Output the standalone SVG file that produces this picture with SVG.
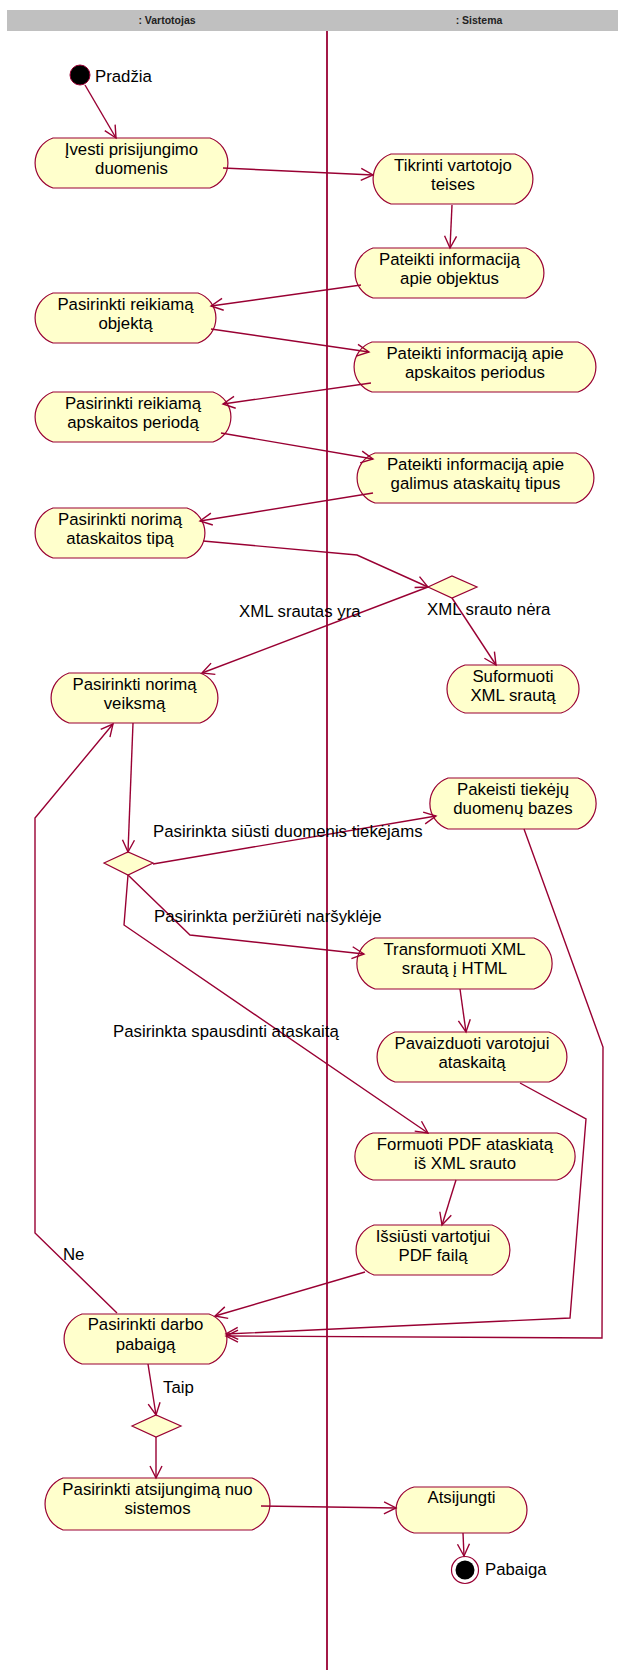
<svg xmlns="http://www.w3.org/2000/svg" width="618" height="1670" viewBox="0 0 618 1670">
  <style>
    .act { fill: #FFFFCC; stroke: #990033; stroke-width: 1.2; }
    .dec { fill: #FFFFCC; stroke: #990033; stroke-width: 1.2; }
    .t { font-family: "Liberation Sans", Arial, sans-serif; font-size: 16.8px; fill: #000; }
    .c { text-anchor: middle; }
    .hd { font-family: "Liberation Sans", Arial, sans-serif; font-size: 10.5px; font-weight: bold; fill: #222; text-anchor: middle; }
    .e { fill: none; stroke: #990033; stroke-width: 1.4; marker-end: url(#open); }
  </style>
  <defs>
    <marker id="open" markerUnits="userSpaceOnUse" markerWidth="14" markerHeight="13" refX="12" refY="6" orient="auto" overflow="visible">
      <path d="M0,0 L12,6 L0,12" fill="none" stroke="#990033" stroke-width="1.4"/>
    </marker>
  </defs>

  <rect width="618" height="1670" fill="#FFFFFF"/>

  <!-- swimlane header and divider -->
  <g id="lanes">
    <rect x="7" y="10" width="611" height="21" fill="#C0C0C0"/>
    <text class="hd" x="167" y="24">: Vartotojas</text>
    <text class="hd" x="479" y="24">: Sistema</text>
    <line x1="327" y1="31" x2="327" y2="1670" stroke="#990033" stroke-width="1.8"/>
  </g>

  <g id="start">
    <circle cx="80" cy="75" r="10" fill="#000" stroke="#990033" stroke-width="1"/>
    <text class="t" x="95" y="82">Pradžia</text>
  </g>

  <!-- activity states: straight top/bottom, arc ends bulging 18px -->
  <g id="ivesti">
    <path class="act" d="M53,138 H210 A26.4,26.4 0 0 1 210,188 H53 A26.4,26.4 0 0 1 53,138 Z"/>
    <text class="t c" x="131.5" y="154.5">Įvesti prisijungimo</text>
    <text class="t c" x="131.5" y="174">duomenis</text>
  </g>

  <g id="tikrinti">
    <path class="act" d="M391,154 H515 A26.4,26.4 0 0 1 515,204 H391 A26.4,26.4 0 0 1 391,154 Z"/>
    <text class="t c" x="453" y="170.5">Tikrinti vartotojo</text>
    <text class="t c" x="453" y="190">teises</text>
  </g>

  <g id="pateikti-objektus">
    <path class="act" d="M373,248 H526 A26.4,26.4 0 0 1 526,298 H373 A26.4,26.4 0 0 1 373,248 Z"/>
    <text class="t c" x="449.5" y="264.5">Pateikti informaciją</text>
    <text class="t c" x="449.5" y="284">apie objektus</text>
  </g>

  <g id="pasirinkti-objekta">
    <path class="act" d="M53,293 H198 A26.4,26.4 0 0 1 198,343 H53 A26.4,26.4 0 0 1 53,293 Z"/>
    <text class="t c" x="125.5" y="309.5">Pasirinkti reikiamą</text>
    <text class="t c" x="125.5" y="329">objektą</text>
  </g>

  <g id="pateikti-periodus">
    <path class="act" d="M372,342 H578 A26.4,26.4 0 0 1 578,392 H372 A26.4,26.4 0 0 1 372,342 Z"/>
    <text class="t c" x="475" y="358.5">Pateikti informaciją apie</text>
    <text class="t c" x="475" y="378">apskaitos periodus</text>
  </g>

  <g id="pasirinkti-perioda">
    <path class="act" d="M53,392 H213 A26.4,26.4 0 0 1 213,442 H53 A26.4,26.4 0 0 1 53,392 Z"/>
    <text class="t c" x="133" y="408.5">Pasirinkti reikiamą</text>
    <text class="t c" x="133" y="428">apskaitos periodą</text>
  </g>

  <g id="pateikti-tipus">
    <path class="act" d="M375,453 H576 A26.4,26.4 0 0 1 576,503 H375 A26.4,26.4 0 0 1 375,453 Z"/>
    <text class="t c" x="475.5" y="469.5">Pateikti informaciją apie</text>
    <text class="t c" x="475.5" y="489">galimus ataskaitų tipus</text>
  </g>

  <g id="pasirinkti-tipa">
    <path class="act" d="M53,508 H187 A26.4,26.4 0 0 1 187,558 H53 A26.4,26.4 0 0 1 53,508 Z"/>
    <text class="t c" x="120" y="524.5">Pasirinkti norimą</text>
    <text class="t c" x="120" y="544">ataskaitos tipą</text>
  </g>

  <g id="xml-decision">
    <polygon class="dec" points="428,587 452,576 477,587 452,598"/>
  </g>

  <g id="suformuoti">
    <path class="act" d="M465,665 H561 A25,25 0 0 1 561,713 H465 A25,25 0 0 1 465,665 Z"/>
    <text class="t c" x="513" y="681.5">Suformuoti</text>
    <text class="t c" x="513" y="701">XML srautą</text>
  </g>

  <g id="pasirinkti-veiksma">
    <path class="act" d="M69,673 H200 A26.4,26.4 0 0 1 200,723 H69 A26.4,26.4 0 0 1 69,673 Z"/>
    <text class="t c" x="134.5" y="689.5">Pasirinkti norimą</text>
    <text class="t c" x="134.5" y="709">veiksmą</text>
  </g>

  <g id="action-decision">
    <polygon class="dec" points="104,863 128,852 153,863 128,875"/>
  </g>

  <g id="pakeisti">
    <path class="act" d="M448,778 H578 A27,27 0 0 1 578,829 H448 A27,27 0 0 1 448,778 Z"/>
    <text class="t c" x="513" y="794.5">Pakeisti tiekėjų</text>
    <text class="t c" x="513" y="814">duomenų bazes</text>
  </g>

  <g id="transformuoti">
    <path class="act" d="M375,938 H534 A27,27 0 0 1 534,989 H375 A27,27 0 0 1 375,938 Z"/>
    <text class="t c" x="454.5" y="954.5">Transformuoti XML</text>
    <text class="t c" x="454.5" y="974">srautą į HTML</text>
  </g>

  <g id="pavaizduoti">
    <path class="act" d="M395,1032 H549 A26.4,26.4 0 0 1 549,1082 H395 A26.4,26.4 0 0 1 395,1032 Z"/>
    <text class="t c" x="472" y="1048.5">Pavaizduoti varotojui</text>
    <text class="t c" x="472" y="1068">ataskaitą</text>
  </g>

  <g id="formuoti-pdf">
    <path class="act" d="M373,1133 H557 A24.3,24.3 0 0 1 557,1180 H373 A24.3,24.3 0 0 1 373,1133 Z"/>
    <text class="t c" x="465" y="1149.5">Formuoti PDF ataskiatą</text>
    <text class="t c" x="465" y="1169">iš XML srauto</text>
  </g>

  <g id="issiusti">
    <path class="act" d="M374,1225 H492 A26.4,26.4 0 0 1 492,1275 H374 A26.4,26.4 0 0 1 374,1225 Z"/>
    <text class="t c" x="433" y="1241.5">Išsiūsti vartotjui</text>
    <text class="t c" x="433" y="1261">PDF failą</text>
  </g>

  <g id="pasirinkti-pabaiga">
    <path class="act" d="M82,1314 H209 A26.4,26.4 0 0 1 209,1364 H82 A26.4,26.4 0 0 1 82,1314 Z"/>
    <text class="t c" x="145.5" y="1330">Pasirinkti darbo</text>
    <text class="t c" x="145.5" y="1349.5">pabaigą</text>
  </g>

  <g id="end-decision">
    <polygon class="dec" points="132,1426 156,1415 181,1426 156,1437"/>
  </g>

  <g id="pasirinkti-atsijungima">
    <path class="act" d="M63,1478 H252 A27.8,27.8 0 0 1 252,1530 H63 A27.8,27.8 0 0 1 63,1478 Z"/>
    <text class="t c" x="157.5" y="1494.5">Pasirinkti atsijungimą nuo</text>
    <text class="t c" x="157.5" y="1514">sistemos</text>
  </g>

  <g id="atsijungti">
    <path class="act" d="M414,1487 H509 A23.7,23.7 0 0 1 509,1533 H414 A23.7,23.7 0 0 1 414,1487 Z"/>
    <text class="t c" x="461.5" y="1503">Atsijungti</text>
  </g>

  <g id="end">
    <circle cx="465" cy="1570" r="13.5" fill="#FFFFFF" stroke="#990033" stroke-width="1.2"/>
    <circle cx="465" cy="1570" r="9.5" fill="#000"/>
    <text class="t" x="485" y="1575">Pabaiga</text>
  </g>

  <!-- transitions -->
  <g id="connectors">
    <line class="e" x1="85" y1="85" x2="116" y2="138"/>
    <line class="e" x1="223" y1="168" x2="373" y2="175"/>
    <line class="e" x1="452" y1="205" x2="450" y2="248"/>
    <line class="e" x1="361" y1="285" x2="211" y2="306"/>
    <line class="e" x1="211" y1="329" x2="369" y2="352"/>
    <line class="e" x1="371" y1="383" x2="223" y2="404"/>
    <line class="e" x1="221" y1="433" x2="373" y2="459"/>
    <line class="e" x1="373" y1="493" x2="200" y2="521"/>
    <polyline class="e" points="203,541 357,555 428,587"/>
    <line class="e" x1="428" y1="587" x2="202" y2="673"/>
    <line class="e" x1="452" y1="598" x2="496" y2="665"/>
    <line class="e" x1="133" y1="723" x2="128" y2="852"/>
    <line class="e" x1="153" y1="864" x2="436" y2="816"/>
    <polyline class="e" points="128,875 190,935 364,954"/>
    <polyline class="e" points="128,875 124,925 428,1133"/>
    <line class="e" x1="460" y1="989" x2="466" y2="1032"/>
    <polyline class="e" points="520,1083 586,1119 570,1318 226,1334"/>
    <polyline class="e" points="524,829 603,1047 602,1338 226,1336"/>
    <line class="e" x1="456" y1="1180" x2="442" y2="1225"/>
    <line class="e" x1="365" y1="1272" x2="215" y2="1316"/>
    <polyline class="e" points="117,1313 35,1233 35,818 113,724"/>
    <line class="e" x1="148" y1="1364" x2="156" y2="1415"/>
    <line class="e" x1="156" y1="1437" x2="156" y2="1478"/>
    <line class="e" x1="261" y1="1506" x2="396" y2="1508"/>
    <line class="e" x1="463" y1="1533" x2="464" y2="1556"/>
  </g>

  <!-- guard conditions -->
  <g id="guards">
    <text class="t" x="239" y="617">XML srautas yra</text>
    <text class="t" x="427" y="615">XML srauto nėra</text>
    <text class="t" x="153" y="837">Pasirinkta siūsti duomenis tiekėjams</text>
    <text class="t" x="154" y="922">Pasirinkta peržiūrėti naršyklėje</text>
    <text class="t" x="113" y="1037">Pasirinkta spausdinti ataskaitą</text>
    <text class="t" x="63" y="1260">Ne</text>
    <text class="t" x="163" y="1393">Taip</text>
  </g>
</svg>
